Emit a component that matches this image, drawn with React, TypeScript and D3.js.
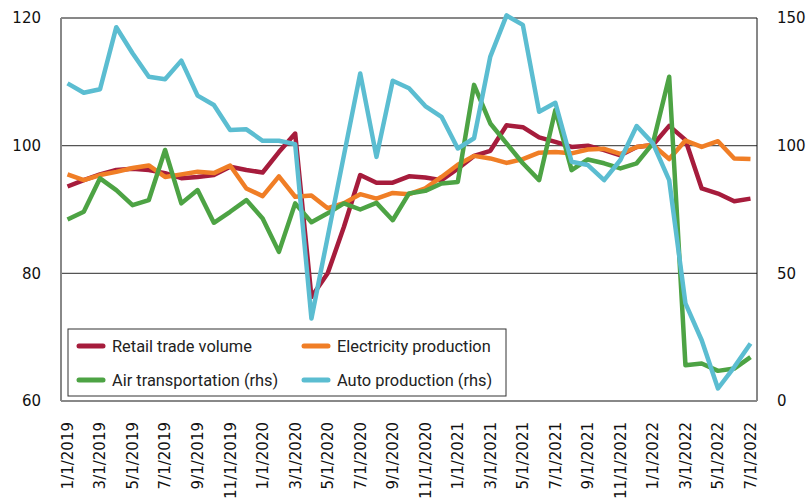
import React, { useEffect, useRef } from 'react';
import * as d3 from 'd3';

// Monthly dates, 1/1/2019 .. 7/1/2022
const months: string[] = [];
for (let y = 2019; y <= 2022; y++) {
  for (let m = 1; m <= 12; m++) {
    if (y === 2022 && m > 7) break;
    months.push(`${m}/1/${y}`);
  }
}

// Left axis series
const retail = [
  93.6, 94.6, 95.5, 96.2, 96.4, 96.2, 95.7, 94.9, 95.1, 95.4, 96.7, 96.2, 95.8, 99.0, 101.9, 76.3,
  80.0, 87.3, 95.4, 94.2, 94.2, 95.2, 95.0, 94.6, 96.4, 98.4, 99.2, 103.2, 102.9, 101.3, 100.6,
  99.8, 100.0, 99.3, 98.5, 99.8, 100.1, 103.1, 100.9, 93.3, 92.5, 91.3, 91.7,
];
const electricity = [
  95.5, 94.6, 95.4, 95.9, 96.5, 96.9, 95.1, 95.5, 95.9, 95.7, 96.9, 93.3, 92.1, 95.2, 92.0, 92.2,
  90.2, 91.0, 92.4, 91.7, 92.6, 92.4, 93.3, 95.1, 97.0, 98.4, 98.0, 97.3, 97.9, 98.9, 99.0,
  98.8, 99.4, 99.5, 98.7, 99.8, 100.1, 97.9, 100.8, 99.8, 100.7, 98.0, 97.9,
];
// Right axis series (rhs)
const air = [
  71.1, 74.1, 87.2, 82.6, 76.7, 78.7, 98.3, 77.4, 82.6, 69.8, 74.1, 78.7, 71.5, 58.4, 77.4, 70.0,
  73.5, 77.4, 75.0, 77.6, 70.8, 81.3, 82.3, 85.2, 85.8, 123.8, 108.7, 100.9, 93.1, 86.5, 114.0,
  90.4, 94.6, 93.1, 91.1, 93.1, 100.9, 127.0, 14.0, 14.7, 11.8, 12.7, 17.2,
];
const auto = [
  124.4, 120.7, 122.1, 146.4, 136.2, 127.0, 126.0, 133.3, 119.6, 115.9, 106.1, 106.4, 101.9, 101.9,
  100.6, 32.3, 64.3, 96.3, 128.3, 95.6, 125.4, 122.5, 115.5, 111.3, 98.9, 102.9, 134.9, 151.0,
  147.3, 113.3, 116.8, 93.7, 92.4, 86.5, 94.4, 107.7, 100.9, 86.5, 38.2, 23.8, 4.9, 13.3, 22.5,
];

const leftTicks = [60, 80, 100, 120];
const rightTicks = [0, 50, 100, 150];

const series = [
  { name: 'Retail trade volume', values: retail, axis: 'left', color: '#A61C3C' },
  { name: 'Electricity production', values: electricity, axis: 'left', color: '#F07E26' },
  { name: 'Air transportation (rhs)', values: air, axis: 'right', color: '#4DA344' },
  { name: 'Auto production (rhs)', values: auto, axis: 'right', color: '#5BBDD1' },
];

const App = () => {
  const ref = useRef<SVGSVGElement | null>(null);

  useEffect(() => {
    if (!ref.current) return;
    const svg = d3.select(ref.current);
    svg.selectAll('*').remove();

    const left = 61, right = 757, top = 18, bottom = 401;

    const x = d3.scalePoint<number>()
      .domain(months.map((_, i) => i))
      .range([left, right])
      .padding(0.4);
    const yL = d3.scaleLinear().domain([60, 120]).range([bottom, top]);
    const yR = d3.scaleLinear().domain([0, 150]).range([bottom, top]);

    // gridlines
    svg.append('g')
      .selectAll('line')
      .data([80, 100])
      .join('line')
      .attr('x1', left).attr('x2', right)
      .attr('y1', d => yL(d)).attr('y2', d => yL(d))
      .attr('stroke', '#555')
      .attr('stroke-width', 1.2);

    // frame
    svg.append('line').attr('x1', left).attr('x2', right).attr('y1', top).attr('y2', top)
      .attr('stroke', '#111').attr('stroke-width', 1);
    svg.append('line').attr('x1', right).attr('x2', right).attr('y1', top).attr('y2', bottom)
      .attr('stroke', '#111').attr('stroke-width', 1);
    svg.append('line').attr('x1', left).attr('x2', left).attr('y1', top).attr('y2', bottom)
      .attr('stroke', '#888').attr('stroke-width', 2);
    svg.append('line').attr('x1', left).attr('x2', right).attr('y1', bottom).attr('y2', bottom)
      .attr('stroke', '#888').attr('stroke-width', 2);

    // lines
    series.forEach(s => {
      const yS = s.axis === 'left' ? yL : yR;
      const line = d3.line<number>()
        .x((_, i) => x(i) as number)
        .y(d => yS(d));
      svg.append('path')
        .datum(s.values)
        .attr('d', line)
        .attr('fill', 'none')
        .attr('stroke', s.color)
        .attr('stroke-width', 4.5)
        .attr('stroke-linejoin', 'round');
    });

    const font = 'DejaVu Sans, Verdana, sans-serif';

    // left axis labels
    svg.append('g')
      .selectAll('text')
      .data(leftTicks)
      .join('text')
      .attr('x', 41)
      .attr('y', d => yL(d))
      .attr('dy', '0.35em')
      .attr('text-anchor', 'end')
      .attr('font-family', font)
      .attr('font-size', 15)
      .attr('fill', '#111')
      .text(d => d);

    // right axis labels
    svg.append('g')
      .selectAll('text')
      .data(rightTicks)
      .join('text')
      .attr('x', 777)
      .attr('y', d => yR(d))
      .attr('dy', '0.35em')
      .attr('font-family', font)
      .attr('font-size', 15)
      .attr('fill', '#111')
      .text(d => d);

    // x labels every other month, rotated
    svg.append('g')
      .selectAll('text')
      .data(months.map((m, i) => ({ m, i })).filter(d => d.i % 2 === 0))
      .join('text')
      .attr('transform', d => `translate(${x(d.i)},422) rotate(-90)`)
      .attr('dy', '0.36em')
      .attr('text-anchor', 'end')
      .attr('font-family', font)
      .attr('font-size', 15)
      .attr('fill', '#111')
      .text(d => d.m);

    // legend
    const lg = svg.append('g');
    lg.append('rect')
      .attr('x', 68).attr('y', 329)
      .attr('width', 438).attr('height', 67)
      .attr('fill', '#fff')
      .attr('stroke', '#333')
      .attr('stroke-width', 1);
    const pos = [[79, 346], [304, 346], [79, 380], [304, 380]];
    series.forEach((s, i) => {
      const [lx, ly] = pos[i];
      lg.append('line')
        .attr('x1', lx).attr('x2', lx + 24)
        .attr('y1', ly).attr('y2', ly)
        .attr('stroke', s.color)
        .attr('stroke-width', 5)
        .attr('stroke-linecap', 'round');
      lg.append('text')
        .attr('x', lx + 33)
        .attr('y', ly)
        .attr('dy', '0.35em')
        .attr('font-family', 'Roboto, sans-serif')
        .attr('font-size', 16.4)
        .attr('fill', '#222')
        .text(s.name);
    });
  }, []);

  return (
    <svg
      ref={ref}
      width={811}
      height={500}
      style={{ position: 'absolute', left: 0, top: 0, background: '#fff' }}
    />
  );
};

export default App;
